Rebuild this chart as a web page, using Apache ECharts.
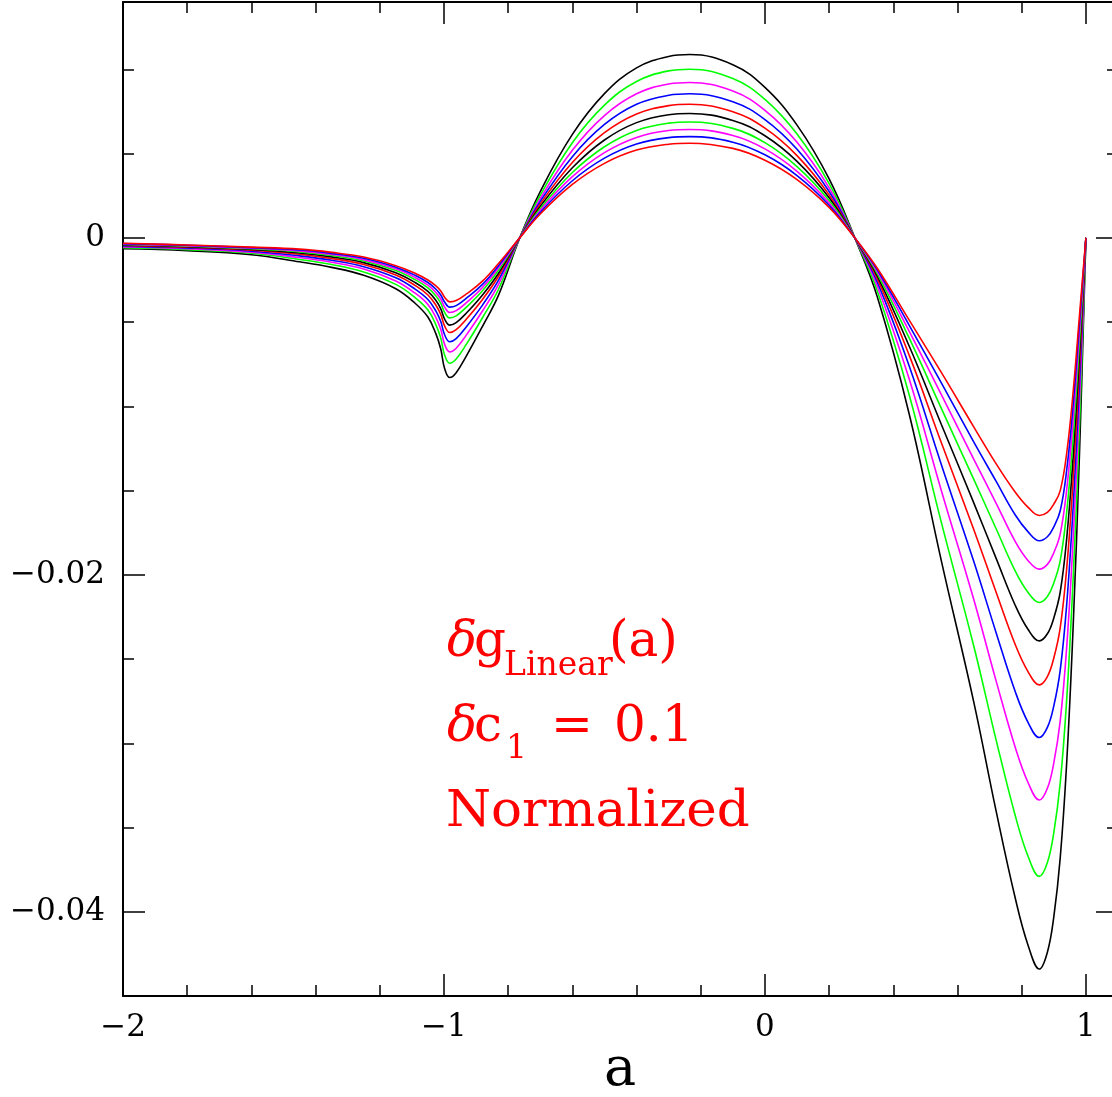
<!DOCTYPE html>
<html>
<head>
<meta charset="utf-8">
<script src="https://cdn.jsdelivr.net/npm/echarts@6/dist/echarts.min.js"></script>
<style>
html,body{margin:0;padding:0;background:#fff;}
#chart{width:1112px;height:1097px;}
</style>
</head>
<body>
<div id="chart"></div>
<script>
// sample abscissae (a)
const xs = [-2, -1.8, -1.6, -1.45, -1.35, -1.25, -1.15, -1.09, -1.05, -1.025, -1.01, -0.998, -0.982, -0.962, -0.93, -0.88, -0.83, -0.764,
  -0.7, -0.6, -0.5, -0.4, -0.3, -0.234, -0.1, 0, 0.1, 0.2,
  0.28, 0.35, 0.45, 0.55, 0.65, 0.72, 0.78, 0.82, 0.855, 0.88, 0.9, 0.92, 0.94, 0.96, 0.98, 1.0];

const curve1 = [-0.00065, -0.00076, -0.00100, -0.00142, -0.00175, -0.00222, -0.00302, -0.00388, -0.00470, -0.00570, -0.00660, -0.00775, -0.00829, -0.00800, -0.00700, -0.00525, -0.00340, 0,
  0.00275, 0.00614, 0.00856, 0.01009, 0.01077, 0.01088, 0.01028, 0.00893, 0.00669, 0.00350,
  0, -0.00350, -0.01050, -0.01920, -0.02750, -0.03400, -0.03920, -0.04200, -0.04340, -0.04240, -0.04030, -0.03680, -0.03120, -0.02320, -0.01280, 0];
const curve2 = [-0.00059, -0.00070, -0.00091, -0.00128, -0.00158, -0.00202, -0.00276, -0.00354, -0.00428, -0.00516, -0.00595, -0.00695, -0.00744, -0.00719, -0.00631, -0.00474, -0.00305, 0,
  0.00253, 0.00565, 0.00788, 0.00928, 0.00991, 0.01001, 0.00946, 0.00822, 0.00616, 0.00322,
  0, -0.00315, -0.00936, -0.01692, -0.02418, -0.02978, -0.03430, -0.03672, -0.03790, -0.03708, -0.03530, -0.03235, -0.02745, -0.02034, -0.01113, 0];
const curve3 = [-0.00054, -0.00064, -0.00085, -0.00117, -0.00145, -0.00185, -0.00256, -0.00328, -0.00395, -0.00473, -0.00543, -0.00632, -0.00677, -0.00655, -0.00576, -0.00434, -0.00276, 0,
  0.00233, 0.00520, 0.00726, 0.00855, 0.00913, 0.00922, 0.00871, 0.00757, 0.00567, 0.00297,
  0, -0.00287, -0.00841, -0.01502, -0.02142, -0.02628, -0.03025, -0.03234, -0.03337, -0.03267, -0.03116, -0.02867, -0.02434, -0.01798, -0.00974, 0];
const curve4 = [-0.00049, -0.00060, -0.00079, -0.00107, -0.00133, -0.00171, -0.00237, -0.00304, -0.00366, -0.00435, -0.00497, -0.00575, -0.00617, -0.00598, -0.00527, -0.00399, -0.00251, 0,
  0.00216, 0.00482, 0.00673, 0.00793, 0.00846, 0.00855, 0.00808, 0.00702, 0.00526, 0.00275,
  0, -0.00263, -0.00764, -0.01348, -0.01917, -0.02342, -0.02694, -0.02877, -0.02966, -0.02906, -0.02778, -0.02566, -0.02180, -0.01605, -0.00861, 0];
const curve5 = [-0.00045, -0.00056, -0.00073, -0.00097, -0.00122, -0.00158, -0.00220, -0.00282, -0.00339, -0.00400, -0.00455, -0.00523, -0.00562, -0.00545, -0.00482, -0.00366, -0.00228, 0,
  0.00201, 0.00447, 0.00624, 0.00735, 0.00785, 0.00793, 0.00749, 0.00651, 0.00488, 0.00255,
  0, -0.00243, -0.00699, -0.01218, -0.01728, -0.02102, -0.02415, -0.02576, -0.02653, -0.02604, -0.02494, -0.02313, -0.01966, -0.01442, -0.00766, 0];
const curve6 = [-0.00042, -0.00052, -0.00069, -0.00090, -0.00113, -0.00147, -0.00207, -0.00265, -0.00318, -0.00372, -0.00421, -0.00482, -0.00518, -0.00503, -0.00446, -0.00339, -0.00210, 0,
  0.00187, 0.00416, 0.00581, 0.00684, 0.00731, 0.00738, 0.00697, 0.00606, 0.00454, 0.00238,
  0, -0.00227, -0.00645, -0.01109, -0.01570, -0.01901, -0.02182, -0.02325, -0.02392, -0.02350, -0.02256, -0.02102, -0.01788, -0.01306, -0.00686, 0];
const curve7 = [-0.00039, -0.00049, -0.00065, -0.00083, -0.00105, -0.00137, -0.00194, -0.00248, -0.00297, -0.00345, -0.00388, -0.00442, -0.00475, -0.00463, -0.00411, -0.00314, -0.00192, 0,
  0.00174, 0.00388, 0.00541, 0.00638, 0.00681, 0.00688, 0.00650, 0.00565, 0.00423, 0.00222,
  0, -0.00212, -0.00597, -0.01014, -0.01431, -0.01725, -0.01978, -0.02105, -0.02164, -0.02129, -0.02048, -0.01916, -0.01631, -0.01187, -0.00617, 0];
const curve8 = [-0.00037, -0.00047, -0.00061, -0.00077, -0.00098, -0.00129, -0.00184, -0.00235, -0.00281, -0.00325, -0.00363, -0.00411, -0.00443, -0.00432, -0.00384, -0.00295, -0.00178, 0,
  0.00163, 0.00363, 0.00506, 0.00596, 0.00637, 0.00643, 0.00608, 0.00528, 0.00395, 0.00207,
  0, -0.00200, -0.00556, -0.00932, -0.01312, -0.01574, -0.01803, -0.01916, -0.01966, -0.01938, -0.01869, -0.01757, -0.01497, -0.01085, -0.00557, 0];
const curve9 = [-0.00034, -0.00044, -0.00058, -0.00072, -0.00092, -0.00121, -0.00174, -0.00222, -0.00265, -0.00305, -0.00339, -0.00381, -0.00411, -0.00402, -0.00358, -0.00276, -0.00165, 0,
  0.00152, 0.00339, 0.00473, 0.00557, 0.00595, 0.00601, 0.00568, 0.00493, 0.00370, 0.00194,
  0, -0.00189, -0.00521, -0.00862, -0.01210, -0.01444, -0.01645, -0.01745, -0.01798, -0.01774, -0.01715, -0.01620, -0.01381, -0.00997, -0.00505, 0];
const curve10 = [-0.00032, -0.00042, -0.00055, -0.00067, -0.00086, -0.00114, -0.00165, -0.00210, -0.00250, -0.00285, -0.00315, -0.00352, -0.00380, -0.00372, -0.00333, -0.00257, -0.00152, 0,
  0.00142, 0.00317, 0.00442, 0.00521, 0.00556, 0.00562, 0.00531, 0.00461, 0.00346, 0.00181,
  0, -0.00180, -0.00490, -0.00800, -0.01120, -0.01340, -0.01510, -0.01600, -0.01648, -0.01630, -0.01580, -0.01500, -0.01280, -0.00920, -0.00460, 0];

const curves = [curve1, curve2, curve3, curve4, curve5, curve6, curve7, curve8, curve9, curve10];
const curveColors = ['#000000', '#00ff00', '#ff00ff', '#0000ff', '#ff0000', '#000000', '#00ff00', '#ff00ff', '#0000ff', '#ff0000'];

// axis ticks and labels
const xMajorTicks = [-2, -1, 0, 1];
const xMinorTicks = [-1.8, -1.6, -1.4, -1.2, -0.8, -0.6, -0.4, -0.2, 0.2, 0.4, 0.6, 0.8];
const yMajorTicks = [-0.04, -0.02, 0];
const yMinorTicks = [-0.045, -0.035, -0.03, -0.025, -0.015, -0.01, -0.005, 0.005, 0.01];
const X_MIN = -2, X_MAX = 1.1, Y_MIN = -0.045, Y_MAX = 0.014;

const FONT = '"DejaVu Serif", "Liberation Serif", serif';
const fmt = v => (v < 0 ? '\u2212' + String(Math.abs(v)) : String(v));

function xAx(pos, major, showLine, showLabel) {
  return {
    type: 'value', min: X_MIN, max: X_MAX, position: pos,
    axisLine: { show: showLine, onZero: false, lineStyle: { color: '#000', width: 2 } },
    axisTick: { show: true, inside: true, length: major ? 22 : 11, customValues: major ? xMajorTicks : xMinorTicks,
      lineStyle: { color: '#000', width: 1.5 } },
    axisLabel: { show: showLabel, customValues: xMajorTicks, formatter: fmt, margin: 16,
      fontFamily: FONT, fontSize: 31, color: '#000' },
    splitLine: { show: false }
  };
}
function yAx(pos, major, showLine, showLabel) {
  return {
    type: 'value', min: Y_MIN, max: Y_MAX, position: pos,
    axisLine: { show: showLine, onZero: false, lineStyle: { color: '#000', width: 2 } },
    axisTick: { show: true, inside: true, length: major ? 22 : 11, customValues: major ? yMajorTicks : yMinorTicks,
      lineStyle: { color: '#000', width: 1.5 } },
    axisLabel: { show: showLabel, customValues: yMajorTicks, formatter: fmt, margin: 18,
      fontFamily: FONT, fontSize: 31, color: '#000' },
    splitLine: { show: false }
  };
}

const chart = echarts.init(document.getElementById('chart'), null, { renderer: 'canvas' });

const series = curves.map((c, k) => ({
  type: 'line',
  xAxisIndex: 0, yAxisIndex: 0,
  data: xs.map((x, i) => [x, c[i]]),
  showSymbol: false,
  smooth: 0.4,
  lineStyle: { color: curveColors[k], width: 1.6 },
  itemStyle: { color: curveColors[k] },
  animation: false,
  silent: true
}));

const red = '#ff0000';
function txt(text, x, y, size, sx) {
  return { type: 'text', x: x, y: y, scaleX: sx || 1, silent: true,
    style: { text: text, font: size + 'px ' + FONT, fill: red, textAlign: 'left', textVerticalAlign: 'middle' } };
}

chart.setOption({
  backgroundColor: '#fff',
  animation: false,
  grid: { left: 123, top: 2, width: 995, height: 994, containLabel: false, outerBoundsMode: 'none' },
  xAxis: [xAx('bottom', true, true, true), xAx('bottom', false, false, false), xAx('top', true, true, false), xAx('top', false, false, false)],
  yAxis: [yAx('left', true, true, true), yAx('left', false, false, false), yAx('right', true, true, false), yAx('right', false, false, false)],
  series: series,
  graphic: [
    { type: 'text', x: 447, y: 643, silent: true, style: { text: '\u03b4', font: 'italic 50px ' + FONT, fill: red, textAlign: 'left', textVerticalAlign: 'middle' } },
    txt('g', 474, 643, 50),
    txt('Linear', 504, 666, 33),
    txt('(a)', 609, 643, 50),
    { type: 'text', x: 447, y: 728, silent: true, style: { text: '\u03b4', font: 'italic 50px ' + FONT, fill: red, textAlign: 'left', textVerticalAlign: 'middle' } },
    txt('c', 474, 728, 50),
    txt('1', 506, 749, 33),
    txt('=', 551, 728, 50),
    txt('0.1', 614, 728, 50),
    txt('Normalized', 446, 813, 50, 1.03),
    { type: 'text', x: 620, y: 1071, silent: true,
      style: { text: 'a', font: '54px ' + FONT, fill: '#000', textAlign: 'center', textVerticalAlign: 'middle' } }
  ]
});
</script>
</body>
</html>
